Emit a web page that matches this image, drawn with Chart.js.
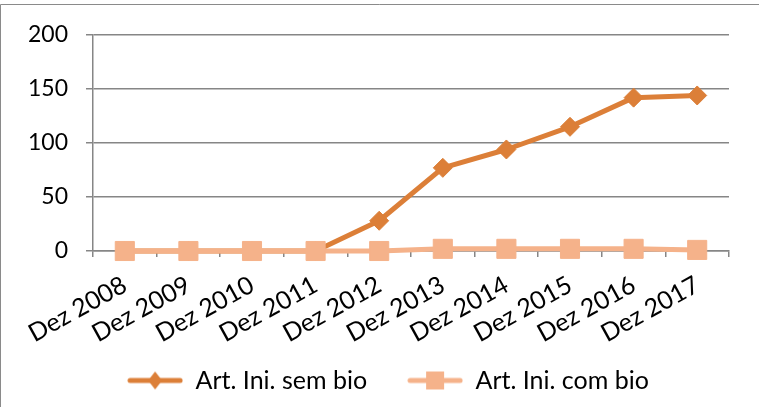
<!DOCTYPE html>
<html><head><meta charset="utf-8">
<script src="https://cdn.jsdelivr.net/npm/chart.js@4"></script>
<style>html,body{margin:0;padding:0;background:#fff;}</style>
</head><body>
<canvas id="c" width="759" height="407"></canvas>
<script>
const categories = ['Dez 2008','Dez 2009','Dez 2010','Dez 2011','Dez 2012','Dez 2013','Dez 2014','Dez 2015','Dez 2016','Dez 2017'];
const seriesNames = ['Art. Ini. sem bio','Art. Ini. com bio'];
const semBio = [0, 0, 0, 0, 28, 77, 94, 115, 142, 144];
const comBio = [0, 0, 0, 0, 0, 2, 2, 2, 2, 1];
const yTickValues = [0, 50, 100, 150, 200];

const colSem = '#DC7F38';
const colCom = '#F5B28A';
const FONT = 'Lato';

function legendIcon(color, shape) {
  const c = document.createElement('canvas');
  c.width = 56; c.height = 22;
  const g = c.getContext('2d');
  g.strokeStyle = color; g.lineWidth = 5; g.lineCap = 'round';
  g.beginPath(); g.moveTo(3, 11); g.lineTo(53, 11); g.stroke();
  g.fillStyle = color;
  if (shape === 'diamond') {
    g.beginPath(); g.moveTo(28, 2); g.lineTo(35, 11); g.lineTo(28, 20); g.lineTo(21, 11); g.closePath(); g.fill();
  } else {
    g.fillRect(19, 2, 18, 18);
  }
  return c;
}
const iconSem = legendIcon(colSem, 'diamond');
const iconCom = legendIcon(colCom, 'square');

const framePlugin = {
  id: 'frame',
  afterLayout(chart) {
    if (chart.legend) { chart.legend.left += 9; chart.legend.right += 9; }
    if (chart.scales.x) { chart.scales.x.bottom = chart.height; }
  },
  beforeDraw(chart) {
    const g = chart.ctx;
    g.save();
    g.fillStyle = '#fff';
    g.fillRect(0, 0, chart.width, chart.height);
    g.strokeStyle = '#8a8a8a'; g.lineWidth = 1;
    g.beginPath(); g.moveTo(0.5, chart.height); g.lineTo(0.5, 4.5); g.lineTo(chart.width, 4.5); g.stroke();
    g.restore();
  }
};

new Chart(document.getElementById('c'), {
  type: 'line',
  data: {
    labels: categories,
    datasets: [
      {
        label: seriesNames[0], data: semBio, order: 2, clip: false,
        borderColor: colSem, backgroundColor: colSem, borderWidth: 5,
        pointStyle: 'rectRot', pointRadius: 9.5, pointBorderWidth: 1,
        pointBackgroundColor: colSem, pointBorderColor: colSem,
        borderJoinStyle: 'round', borderCapStyle: 'round', tension: 0
      },
      {
        label: seriesNames[1], data: comBio, order: 1, clip: false,
        borderColor: colCom, backgroundColor: colCom, borderWidth: 5,
        pointStyle: 'rect', pointRadius: 13.5, pointBorderWidth: 1,
        pointBackgroundColor: colCom, pointBorderColor: colCom,
        borderJoinStyle: 'round', borderCapStyle: 'round', tension: 0
      }
    ]
  },
  options: {
    responsive: false,
    animation: false,
    events: [],
    layout: { padding: { left: 29, right: 30, top: 35, bottom: 4 } },
    scales: {
      x: {
        offset: true,
        grid: { offset: true, drawOnChartArea: false, drawTicks: true, tickLength: 6, color: '#868686', lineWidth: 1.5 },
        border: { color: '#868686', width: 1.5 },
        ticks: { autoSkip: false, minRotation: 29, maxRotation: 29, padding: 13, color: '#000', font: { family: FONT, size: 25 } },
        afterFit: s => { s.height = 77; }
      },
      y: {
        min: 0, max: 200,
        afterBuildTicks: s => { s.ticks = yTickValues.map(v => ({ value: v })); },
        grid: { color: '#868686', lineWidth: 1.5, tickLength: 7 },
        border: { color: '#868686', width: 1.5 },
        ticks: { padding: 18, color: '#000', font: { family: FONT, size: 23 } },
        afterFit: s => { s.width = 64; }
      }
    },
    plugins: {
      tooltip: { enabled: false },
      legend: {
        position: 'bottom',
        labels: {
          usePointStyle: true, pointStyleWidth: 56, boxHeight: 22, padding: 40,
          color: '#000', font: { family: FONT, size: 25 },
          generateLabels: chart => [
            { text: seriesNames[0], pointStyle: iconSem, datasetIndex: 0, fillStyle: colSem, strokeStyle: colSem, lineWidth: 0, hidden: false, fontColor: '#000' },
            { text: seriesNames[1], pointStyle: iconCom, datasetIndex: 1, fillStyle: colCom, strokeStyle: colCom, lineWidth: 0, hidden: false, fontColor: '#000' }
          ]
        }
      }
    }
  },
  plugins: [framePlugin]
});
</script>
</body></html>
